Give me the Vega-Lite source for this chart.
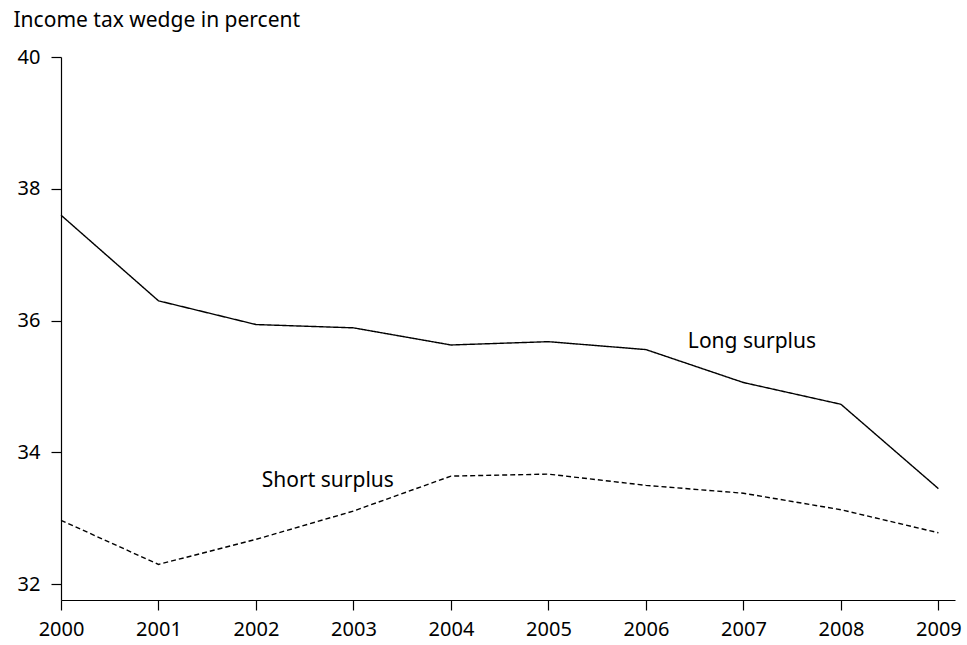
{
  "$schema": "https://vega.github.io/schema/vega-lite/v6.json",
  "width": 894,
  "height": 543,
  "autosize": {"type": "none"},
  "padding": {"left": 61, "top": 57, "right": 12, "bottom": 45},
  "background": "white",
  "config": {"view": {"stroke": null}, "font": "Noto Sans"},
  "datasets": {
    "series": [
      {"year": 2000, "value": 37.60, "series": "Long surplus"},
      {"year": 2001, "value": 36.30, "series": "Long surplus"},
      {"year": 2002, "value": 35.94, "series": "Long surplus"},
      {"year": 2003, "value": 35.89, "series": "Long surplus"},
      {"year": 2004, "value": 35.63, "series": "Long surplus"},
      {"year": 2005, "value": 35.68, "series": "Long surplus"},
      {"year": 2006, "value": 35.56, "series": "Long surplus"},
      {"year": 2007, "value": 35.06, "series": "Long surplus"},
      {"year": 2008, "value": 34.73, "series": "Long surplus"},
      {"year": 2009, "value": 33.45, "series": "Long surplus"},
      {"year": 2000, "value": 32.97, "series": "Short surplus"},
      {"year": 2001, "value": 32.30, "series": "Short surplus"},
      {"year": 2002, "value": 32.68, "series": "Short surplus"},
      {"year": 2003, "value": 33.11, "series": "Short surplus"},
      {"year": 2004, "value": 33.64, "series": "Short surplus"},
      {"year": 2005, "value": 33.67, "series": "Short surplus"},
      {"year": 2006, "value": 33.50, "series": "Short surplus"},
      {"year": 2007, "value": 33.38, "series": "Short surplus"},
      {"year": 2008, "value": 33.13, "series": "Short surplus"},
      {"year": 2009, "value": 32.78, "series": "Short surplus"}
    ],
    "labels": [
      {"year": 2006.43, "value": 35.68, "label": "Long surplus"},
      {"year": 2002.06, "value": 33.56, "label": "Short surplus"}
    ]
  },
  "layer": [
    {
      "data": {"name": "series"},
      "mark": {"type": "line", "color": "black", "strokeWidth": 1.4},
      "encoding": {
        "x": {
          "field": "year", "type": "quantitative",
          "scale": {"domain": [2000, 2009.17], "nice": false, "zero": false},
          "axis": {
            "values": [2000, 2001, 2002, 2003, 2004, 2005, 2006, 2007, 2008, 2009],
            "format": "d", "title": null, "grid": false,
            "domainColor": "black", "tickColor": "black", "domainWidth": 1.2, "tickWidth": 1.2,
            "tickSize": 10, "labelFontSize": 20, "labelColor": "black", "labelPadding": 9,
            "labelFlush": false
          }
        },
        "y": {
          "field": "value", "type": "quantitative",
          "scale": {"domain": [31.76, 40], "nice": false, "zero": false},
          "axis": {
            "values": [32, 34, 36, 38, 40], "format": "d",
            "title": "Income tax wedge in percent", "titleAngle": 0,
            "titleAlign": "left", "titleBaseline": "middle", "titleX": -48, "titleY": -37,
            "titleFontSize": 21, "titleFontWeight": "normal", "titleColor": "black",
            "grid": false,
            "domainColor": "black", "tickColor": "black", "domainWidth": 1.2, "tickWidth": 1.2,
            "tickSize": 10, "labelFontSize": 20, "labelColor": "black", "labelPadding": 11
          }
        },
        "strokeDash": {
          "field": "series", "type": "nominal",
          "scale": {"domain": ["Long surplus", "Short surplus"], "range": [[1, 0], [5, 3]]},
          "legend": null
        },
        "detail": {"field": "series"}
      }
    },
    {
      "data": {"name": "labels"},
      "mark": {"type": "text", "align": "left", "baseline": "middle", "fontSize": 21, "color": "black"},
      "encoding": {
        "x": {"field": "year", "type": "quantitative"},
        "y": {"field": "value", "type": "quantitative"},
        "text": {"field": "label"}
      }
    }
  ]
}
